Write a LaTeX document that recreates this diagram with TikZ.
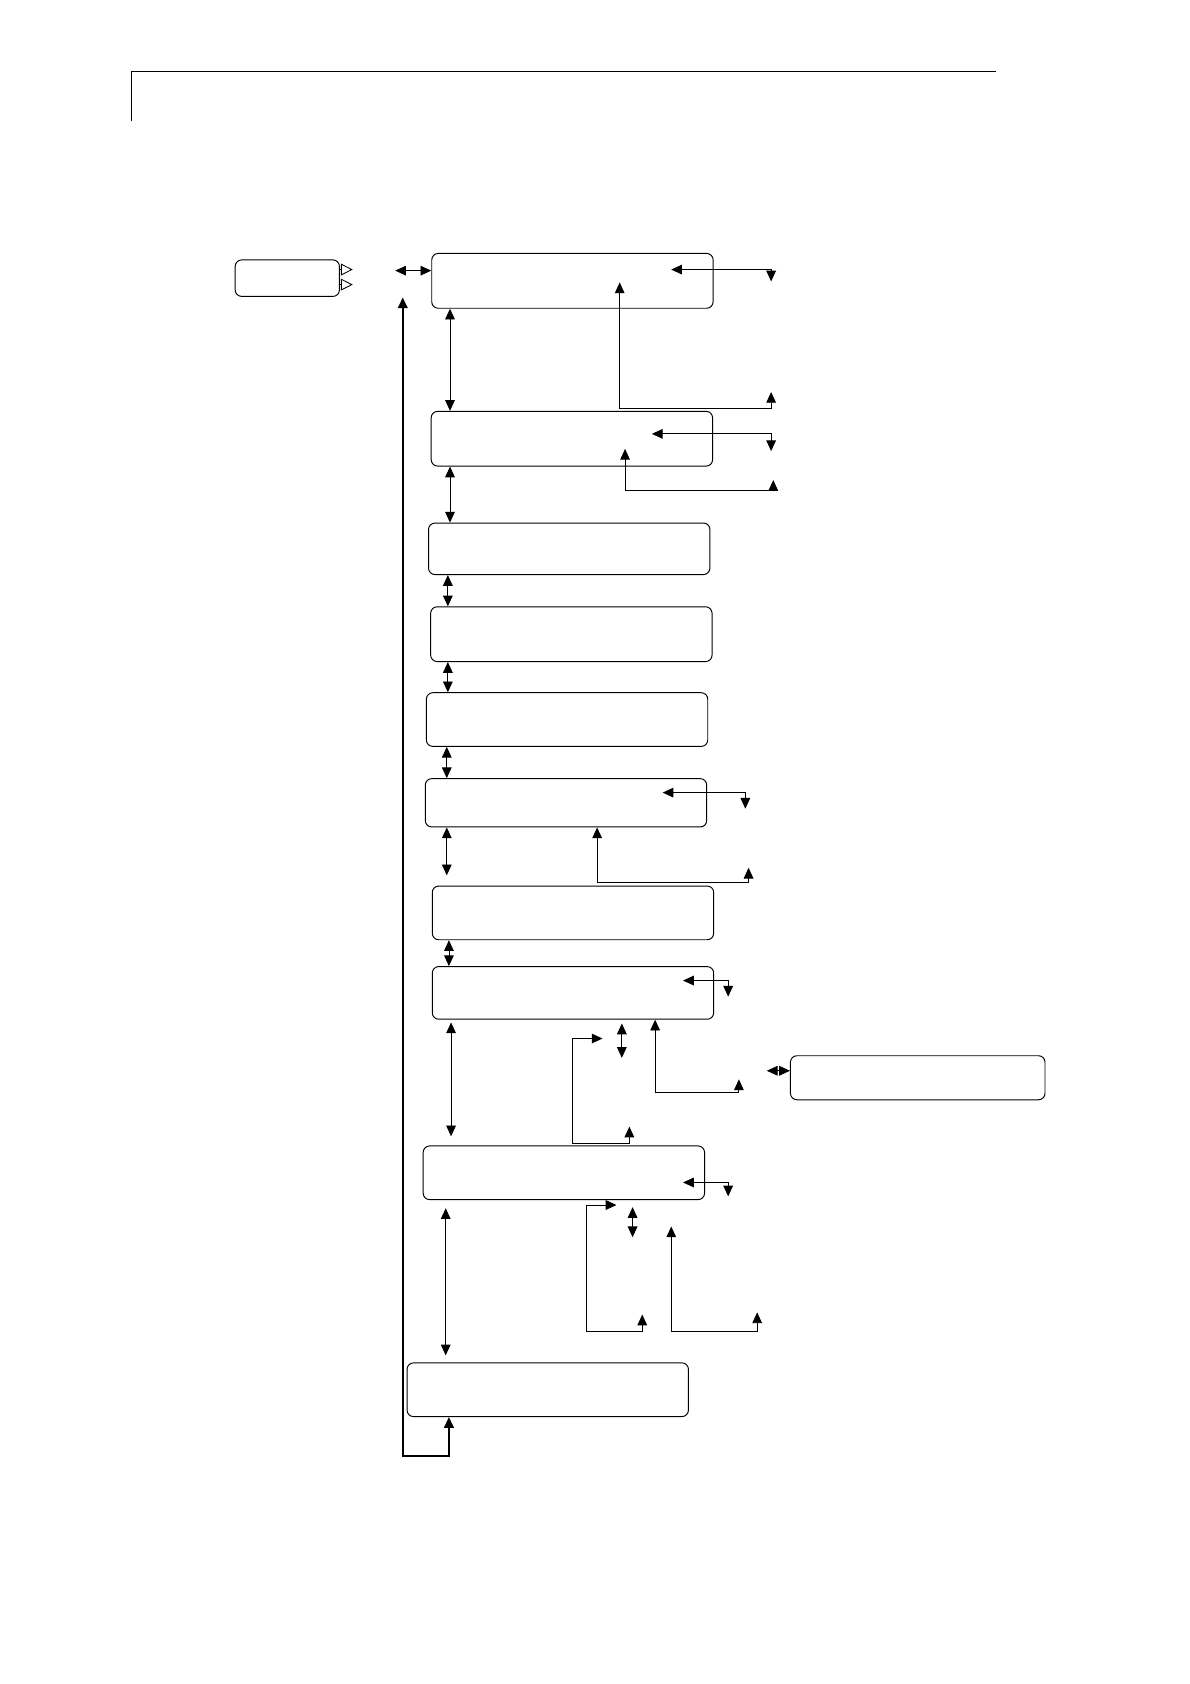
\documentclass[tikz,border=0pt]{standalone}
\usepackage{tikz}
\usetikzlibrary{arrows.meta,positioning}
\begin{document}
\begin{tikzpicture}[
  x=1pt,y=-1pt,
  box/.style={draw,line width=0.9pt,rounded corners=6pt,minimum width=262pt,minimum height=#1,inner sep=0pt},
  box/.default=50pt,
  arrow/.style={-{Triangle[length=10pt,width=9pt]},line width=0.8pt},
  twoway/.style={{Triangle[length=10pt,width=9pt]}-{Triangle[length=10pt,width=9pt]},line width=0.8pt},
  feedback/.style={twoway,line width=1.8pt},
  hollow/.style={-{Triangle[open,length=11pt,width=11pt]},line width=0.8pt},
]
\useasboundingbox (0,0) rectangle (1108,1568);
% page header
\draw[line width=0.9pt] (122,113) -- (122,67) -- (927,67);

% boxes
\node[box=34pt,minimum width=97pt] (start) at (267.5,259) {};
\node[box=51pt] (m1) at (533,261.5) {};
\node[box=51pt] (m2) at (532.5,408.5) {};
\node[box=48pt] (m3) at (530,511) {};
\node[box=51pt] (m4) at (532,590.5) {};
\node[box=50pt] (m5) at (528,670) {};
\node[box=45pt] (m6) at (527,747.5) {};
\node[box=50pt] (m7) at (533.5,850) {};
\node[box=49pt] (m8) at (533.5,924.5) {};
\node[box=41pt,minimum width=237pt] (aux) at (854.5,1003.5) {};
\node[box=50pt] (m9) at (525,1092) {};
\node[box=50pt] (m10) at (510,1294) {};

% free ends
\coordinate (m1in) at (625,251);   \coordinate (m1out) at (718,262);
\coordinate (m1up) at (577,263);   \coordinate (m1ret) at (718,365);
\coordinate (m2in) at (607,404);   \coordinate (m2out) at (718,420);
\coordinate (m2up) at (582,418);   \coordinate (m2ret) at (720,447);
\coordinate (m6in) at (617,738);   \coordinate (m6out) at (694,753);
\coordinate (m6ret) at (697,808);
\coordinate (m8in) at (636,913);   \coordinate (m8out) at (678,928);
\coordinate (m8ret) at (688,1005);
\coordinate (m9to) at (561,967);   \coordinate (m9ret) at (586,1049);
\coordinate (m9in) at (636,1101);  \coordinate (m9out) at (678,1114);
\coordinate (m9side) at (574,1122); \coordinate (m9a) at (598,1224);
\coordinate (m9up) at (625,1142);  \coordinate (m9b) at (705,1222);

% entry
\draw[hollow] (start.east |- 0,251) -- ++(12,0);
\draw[hollow] (start.east |- 0,265) -- ++(12,0);
\draw[twoway] (368,252) -- (m1.west |- 0,252);

% main column
\draw[twoway] (m1.south -| 419,0) -- (m2.north -| 419,0);
\draw[twoway] (m2.south -| 419,0) -- (m3.north -| 419,0);
\draw[twoway] (m3.south -| 417,0) -- (m4.north -| 417,0);
\draw[twoway] (m4.south -| 417,0) -- (m5.north -| 417,0);
\draw[twoway] (m5.south -| 416,0) -- (m6.north -| 416,0);
\draw[twoway] (m6.south -| 416,0) -- (416,815);
\draw[twoway] (m7.south -| 418,0) -- (m8.north -| 418,0);
\draw[twoway] (420,952) -- (420,1058);
\draw[twoway] (415,1125) -- (415,1262);

% side loops
\draw[twoway] (m1in) -| (m1out);
\draw[twoway] (m1up) |- (718,380) -- (m1ret);
\draw[twoway] (m2in) -| (m2out);
\draw[twoway] (m2up) |- (720,457) -- (m2ret);
\draw[twoway] (m6in) -| (m6out);
\draw[twoway] (m6.south -| 556,0) |- (697,822) -- (m6ret);
\draw[twoway] (m8in) -| (m8out);
\draw[twoway] (579,953) -- (579,985);
\draw[twoway] (m8.south -| 610,0) |- (688,1017) -- (m8ret);
\draw[twoway] (714,997) -- (aux.west |- 0,997);
\draw[twoway] (m9to) -| (533,1065) -| (m9ret);
\draw[twoway] (m9in) -| (m9out);
\draw[twoway] (589,1124) -- (589,1152);
\draw[twoway] (m9side) -| (546,1240) -| (m9a);
\draw[twoway] (m9up) |- (705,1240) -- (m9b);

% return line
\draw[feedback] (m10.south -| 418,0) -- (418,1356) -- (375,1356) -- (375,277);
\end{tikzpicture}
\end{document}
